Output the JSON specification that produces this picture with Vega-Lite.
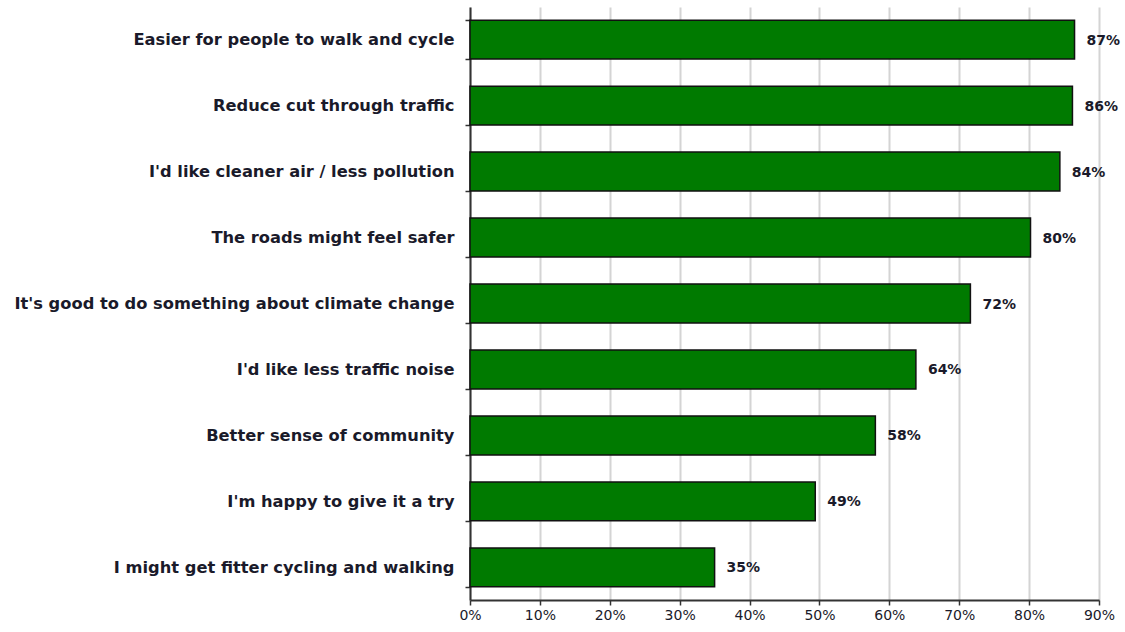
{
  "$schema": "https://vega.github.io/schema/vega-lite/v6.json",
  "width": 629,
  "height": 593,
  "autosize": {"type": "none"},
  "padding": {"left": 470, "top": 7, "right": 26, "bottom": 32},
  "background": "white",
  "data": {
    "values": [
      {"reason": "Easier for people to walk and cycle", "value": 86.5, "label": "87%"},
      {"reason": "Reduce cut through traffic", "value": 86.2, "label": "86%"},
      {"reason": "I'd like cleaner air / less pollution", "value": 84.4, "label": "84%"},
      {"reason": "The roads might feel safer", "value": 80.2, "label": "80%"},
      {"reason": "It's good to do something about climate change", "value": 71.6, "label": "72%"},
      {"reason": "I'd like less traffic noise", "value": 63.8, "label": "64%"},
      {"reason": "Better sense of community", "value": 58.0, "label": "58%"},
      {"reason": "I'm happy to give it a try", "value": 49.4, "label": "49%"},
      {"reason": "I might get fitter cycling and walking", "value": 35.0, "label": "35%"}
    ]
  },
  "config": {
    "view": {"stroke": null},
    "font": "DejaVu Sans"
  },
  "encoding": {
    "y": {
      "field": "reason",
      "type": "nominal",
      "sort": null,
      "scale": {"paddingInner": 0.41, "paddingOuter": 0.2},
      "axis": {
        "title": null,
        "tickBand": "extent",
        "grid": false,
        "domainColor": "#333333",
        "domainWidth": 2,
        "tickColor": "#333333",
        "tickWidth": 1.5,
        "tickSize": 5,
        "labelPadding": 11,
        "labelFont": "DejaVu Sans",
        "labelFontSize": 16.3,
        "labelFontWeight": "bold",
        "labelColor": "#1a1a2a",
        "labelLimit": 480
      }
    },
    "x": {
      "field": "value",
      "type": "quantitative",
      "scale": {"domain": [0, 90], "nice": false},
      "axis": {
        "title": null,
        "values": [0, 10, 20, 30, 40, 50, 60, 70, 80, 90],
        "labelExpr": "datum.value + '%'",
        "grid": true,
        "gridColor": "#d4d4d4",
        "gridWidth": 2,
        "domainColor": "#333333",
        "domainWidth": 2,
        "tickColor": "#333333",
        "tickWidth": 1.5,
        "tickSize": 5,
        "labelPadding": 3,
        "labelFont": "DejaVu Sans",
        "labelFontSize": 14,
        "labelColor": "#1a1a2a",
        "labelFlush": false
      }
    }
  },
  "layer": [
    {
      "mark": {"type": "bar", "color": "#007A00", "stroke": "#111111", "strokeWidth": 1.5}
    },
    {
      "mark": {"type": "text", "align": "left", "baseline": "middle", "dx": 12, "dy": 1, "fontSize": 14, "fontWeight": "bold", "color": "#1a1a2a"},
      "encoding": {"text": {"field": "label"}}
    }
  ]
}
